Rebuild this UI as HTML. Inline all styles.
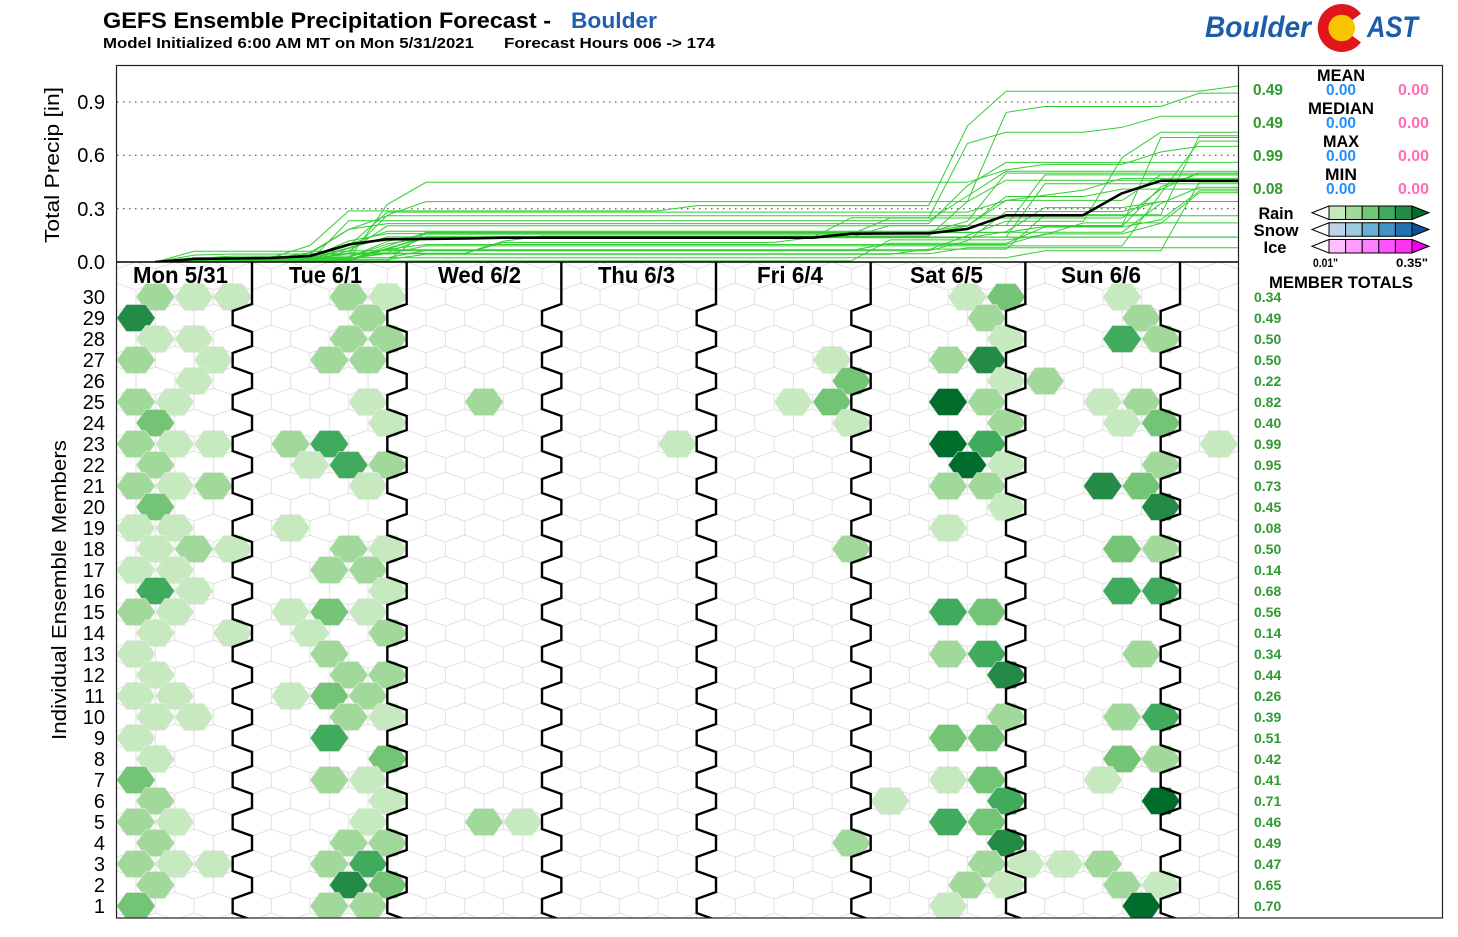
<!DOCTYPE html>
<html><head><meta charset="utf-8">
<style>
html,body{margin:0;padding:0;background:#fff;}
svg{display:block;font-family:"Liberation Sans",Arial,Helvetica,sans-serif;}
</style></head>
<body>
<svg id="s" width="1458" height="937" viewBox="0 0 1458 937" xmlns="http://www.w3.org/2000/svg">
<defs>
<clipPath id="cTop"><rect x="117" y="66" width="1121" height="196"/></clipPath>
<clipPath id="cGrid"><rect x="117" y="262" width="1121" height="656"/></clipPath>
</defs>
<rect width="1458" height="937" fill="#fff"/>

<!-- Header -->
<text x="103" y="28" font-size="22" font-weight="bold" textLength="448" lengthAdjust="spacingAndGlyphs">GEFS Ensemble Precipitation Forecast -</text>
<text x="571" y="28" font-size="22" font-weight="bold" fill="#1f5fad" textLength="86" lengthAdjust="spacingAndGlyphs">Boulder</text>
<text x="103" y="48" font-size="15" font-weight="bold" textLength="371" lengthAdjust="spacingAndGlyphs">Model Initialized 6:00 AM MT on Mon 5/31/2021</text>
<text x="504" y="48" font-size="15" font-weight="bold" textLength="211" lengthAdjust="spacingAndGlyphs">Forecast Hours 006 -&gt; 174</text>

<!-- Logo -->
<text x="1205" y="37" font-size="30" font-weight="bold" font-style="italic" fill="#1c5daa" textLength="106" lengthAdjust="spacingAndGlyphs">Boulder</text>
<circle cx="1341.7" cy="28" r="24" fill="#e0161c"/>
<polygon points="1341.7,28 1374,4 1374,52" fill="#fff"/>
<circle cx="1341.7" cy="28" r="13.3" fill="#f7c400"/>
<text x="1367" y="37" font-size="30" font-weight="bold" font-style="italic" fill="#1c5daa" textLength="51" lengthAdjust="spacingAndGlyphs">AST</text>

<!-- Top chart gridlines -->
<g stroke="#333" stroke-width="1" stroke-dasharray="1.5,4.5">
<line x1="117" y1="102" x2="1238" y2="102"/>
<line x1="117" y1="155.3" x2="1238" y2="155.3"/>
<line x1="117" y1="208.7" x2="1238" y2="208.7"/>
</g>
<g id="lines" clip-path="url(#cTop)" fill="none" stroke="#33cc33" stroke-width="1"></g>
<polyline clip-path="url(#cTop)" fill="none" stroke="#000" stroke-width="2.6" stroke-linejoin="round" points="155,262 194,259 233,258.5 271,258 310,256 349,244.5 387,239.3 426,239 465,238.5 503,237.7 542,237.7 581,237.7 620,237.7 658,237.7 697,237.7 736,237.7 774,237.7 813,237.7 851,233.7 890,233.5 929,233.3 967,229 1006,215.3 1045,215.3 1083,215.3 1122,193.3 1161,180.7 1199,180.7 1238,180.7"/>

<!-- Hex grid -->
<g id="hexes" clip-path="url(#cGrid)"></g>
<path id="seps" clip-path="url(#cGrid)" fill="none" stroke="#000" stroke-width="2.4" d=""/>

<!-- Frames -->
<line x1="117" y1="262" x2="1238" y2="262" stroke="#000" stroke-width="1.6"/>
<rect x="116.5" y="65.5" width="1326" height="852.5" fill="none" stroke="#222" stroke-width="1.2"/>
<line x1="1238.5" y1="66" x2="1238.5" y2="918" stroke="#222" stroke-width="1.2"/>

<!-- Day labels -->
<g font-size="23" font-weight="bold">
<text x="133" y="283" textLength="95" lengthAdjust="spacingAndGlyphs">Mon 5/31</text>
<text x="289" y="283" textLength="73" lengthAdjust="spacingAndGlyphs">Tue 6/1</text>
<text x="438" y="283" textLength="83" lengthAdjust="spacingAndGlyphs">Wed 6/2</text>
<text x="598" y="283" textLength="77" lengthAdjust="spacingAndGlyphs">Thu 6/3</text>
<text x="757" y="283" textLength="66" lengthAdjust="spacingAndGlyphs">Fri 6/4</text>
<text x="910" y="283" textLength="73" lengthAdjust="spacingAndGlyphs">Sat 6/5</text>
<text x="1061" y="283" textLength="80" lengthAdjust="spacingAndGlyphs">Sun 6/6</text>
</g>

<!-- Y axis labels -->
<text transform="translate(59,165) rotate(-90)" text-anchor="middle" font-size="20" textLength="156" lengthAdjust="spacingAndGlyphs">Total Precip [in]</text>
<text transform="translate(66,590) rotate(-90)" text-anchor="middle" font-size="20" textLength="300" lengthAdjust="spacingAndGlyphs">Individual Ensemble Members</text>
<g font-size="20" text-anchor="end">
<text x="105" y="109">0.9</text>
<text x="105" y="162">0.6</text>
<text x="105" y="216">0.3</text>
<text x="105" y="269">0.0</text>
</g>
<g font-size="20" text-anchor="end">
<text x="105" y="304">30</text><text x="105" y="325">29</text><text x="105" y="346">28</text><text x="105" y="367">27</text><text x="105" y="388">26</text>
<text x="105" y="409">25</text><text x="105" y="430">24</text><text x="105" y="451">23</text><text x="105" y="472">22</text><text x="105" y="493">21</text>
<text x="105" y="514">20</text><text x="105" y="535">19</text><text x="105" y="556">18</text><text x="105" y="577">17</text><text x="105" y="598">16</text>
<text x="105" y="619">15</text><text x="105" y="640">14</text><text x="105" y="661">13</text><text x="105" y="682">12</text><text x="105" y="703">11</text>
<text x="105" y="724">10</text><text x="105" y="745">9</text><text x="105" y="766">8</text><text x="105" y="787">7</text><text x="105" y="808">6</text>
<text x="105" y="829">5</text><text x="105" y="850">4</text><text x="105" y="871">3</text><text x="105" y="892">2</text><text x="105" y="913">1</text>
</g>

<!-- Right panel stats -->
<g font-weight="bold" text-anchor="middle" font-size="17">
<text x="1341" y="81" textLength="48" lengthAdjust="spacingAndGlyphs">MEAN</text>
<text x="1341" y="114" textLength="66" lengthAdjust="spacingAndGlyphs">MEDIAN</text>
<text x="1341" y="147" textLength="36" lengthAdjust="spacingAndGlyphs">MAX</text>
<text x="1341" y="180" textLength="32" lengthAdjust="spacingAndGlyphs">MIN</text>
</g>
<g font-weight="bold" font-size="16">
<g fill="#2f9a2f">
<text x="1253" y="95" textLength="30" lengthAdjust="spacingAndGlyphs">0.49</text>
<text x="1253" y="128" textLength="30" lengthAdjust="spacingAndGlyphs">0.49</text>
<text x="1253" y="161" textLength="30" lengthAdjust="spacingAndGlyphs">0.99</text>
<text x="1253" y="194" textLength="30" lengthAdjust="spacingAndGlyphs">0.08</text>
</g>
<g fill="#1e90ff">
<text x="1326" y="95" textLength="30" lengthAdjust="spacingAndGlyphs">0.00</text>
<text x="1326" y="128" textLength="30" lengthAdjust="spacingAndGlyphs">0.00</text>
<text x="1326" y="161" textLength="30" lengthAdjust="spacingAndGlyphs">0.00</text>
<text x="1326" y="194" textLength="30" lengthAdjust="spacingAndGlyphs">0.00</text>
</g>
<g fill="#ff6eb4">
<text x="1398" y="95" textLength="31" lengthAdjust="spacingAndGlyphs">0.00</text>
<text x="1398" y="128" textLength="31" lengthAdjust="spacingAndGlyphs">0.00</text>
<text x="1398" y="161" textLength="31" lengthAdjust="spacingAndGlyphs">0.00</text>
<text x="1398" y="194" textLength="31" lengthAdjust="spacingAndGlyphs">0.00</text>
</g>
</g>

<!-- Legend -->
<g font-weight="bold" font-size="17" text-anchor="middle">
<text x="1276" y="219" textLength="35" lengthAdjust="spacingAndGlyphs">Rain</text>
<text x="1276" y="236" textLength="45" lengthAdjust="spacingAndGlyphs">Snow</text>
<text x="1275" y="253" textLength="23" lengthAdjust="spacingAndGlyphs">Ice</text>
</g>
<g stroke="#000" stroke-width="1">
<polygon points="1312,212.75 1329,206 1329,219.5" fill="#fff"/>
<rect x="1329" y="206" width="16.6" height="13.5" fill="#c7e9c0"/>
<rect x="1345.6" y="206" width="16.6" height="13.5" fill="#a1d99b"/>
<rect x="1362.2" y="206" width="16.6" height="13.5" fill="#74c476"/>
<rect x="1378.8" y="206" width="16.6" height="13.5" fill="#41ab5d"/>
<rect x="1395.4" y="206" width="16.6" height="13.5" fill="#238b45"/>
<polygon points="1412,206 1429,212.75 1412,219.5" fill="#006d2c"/>

<polygon points="1312,229.5 1329,222.75 1329,236.25" fill="#fff"/>
<rect x="1329" y="222.75" width="16.6" height="13.5" fill="#bdd3e8"/>
<rect x="1345.6" y="222.75" width="16.6" height="13.5" fill="#9ecae1"/>
<rect x="1362.2" y="222.75" width="16.6" height="13.5" fill="#6baed6"/>
<rect x="1378.8" y="222.75" width="16.6" height="13.5" fill="#4292c6"/>
<rect x="1395.4" y="222.75" width="16.6" height="13.5" fill="#2171b5"/>
<polygon points="1412,222.75 1429,229.5 1412,236.25" fill="#08519c"/>

<polygon points="1312,246.25 1329,239.5 1329,253" fill="#fff"/>
<rect x="1329" y="239.5" width="16.6" height="13.5" fill="#ffbfff"/>
<rect x="1345.6" y="239.5" width="16.6" height="13.5" fill="#ff9cff"/>
<rect x="1362.2" y="239.5" width="16.6" height="13.5" fill="#ff80ff"/>
<rect x="1378.8" y="239.5" width="16.6" height="13.5" fill="#ff55ff"/>
<rect x="1395.4" y="239.5" width="16.6" height="13.5" fill="#ff33ee"/>
<polygon points="1412,239.5 1429,246.25 1412,253" fill="#ee00ee"/>
</g>
<g font-weight="bold" font-size="12">
<text x="1313" y="267" textLength="25" lengthAdjust="spacingAndGlyphs">0.01"</text>
<text x="1396" y="267" textLength="32" lengthAdjust="spacingAndGlyphs">0.35"</text>
</g>
<text x="1341" y="288" text-anchor="middle" font-weight="bold" font-size="17" textLength="144" lengthAdjust="spacingAndGlyphs">MEMBER TOTALS</text>

<!-- Member totals -->
<g font-weight="bold" font-size="14" fill="#2f9a2f">
<text x="1254" y="302">0.34</text><text x="1254" y="323">0.49</text><text x="1254" y="344">0.50</text><text x="1254" y="365">0.50</text><text x="1254" y="386">0.22</text>
<text x="1254" y="407">0.82</text><text x="1254" y="428">0.40</text><text x="1254" y="449">0.99</text><text x="1254" y="470">0.95</text><text x="1254" y="491">0.73</text>
<text x="1254" y="512">0.45</text><text x="1254" y="533">0.08</text><text x="1254" y="554">0.50</text><text x="1254" y="575">0.14</text><text x="1254" y="596">0.68</text>
<text x="1254" y="617">0.56</text><text x="1254" y="638">0.14</text><text x="1254" y="659">0.34</text><text x="1254" y="680">0.44</text><text x="1254" y="701">0.26</text>
<text x="1254" y="722">0.39</text><text x="1254" y="743">0.51</text><text x="1254" y="764">0.42</text><text x="1254" y="785">0.41</text><text x="1254" y="806">0.71</text>
<text x="1254" y="827">0.46</text><text x="1254" y="848">0.49</text><text x="1254" y="869">0.47</text><text x="1254" y="890">0.65</text><text x="1254" y="911">0.70</text>
</g>
</svg>

<script>
(function(){
var NS='http://www.w3.org/2000/svg';
var W=38.67, HW=19.335, TW=9.67, HH=13.5;
function rowY(r){return 297+(30-r)*21;}
function hexPath(cx,cy){
  return 'M'+(cx-HW).toFixed(2)+','+cy+'L'+(cx-TW).toFixed(2)+','+(cy-HH)+'L'+(cx+TW).toFixed(2)+','+(cy-HH)+'L'+(cx+HW).toFixed(2)+','+cy+'L'+(cx+TW).toFixed(2)+','+(cy+HH)+'L'+(cx-TW).toFixed(2)+','+(cy+HH)+'Z';
}
function gridPath(cx,cy){
  return 'M'+cx.toFixed(2)+','+(cy-14)+'L'+(cx+HW).toFixed(2)+','+(cy-7)+'L'+(cx+HW).toFixed(2)+','+(cy+7)+'L'+cx.toFixed(2)+','+(cy+14)+'L'+(cx-HW).toFixed(2)+','+(cy+7)+'L'+(cx-HW).toFixed(2)+','+(cy-7)+'Z';
}
var COL={L:'#c7e9c0',M:'#a1d99b',G:'#74c476',D:'#41ab5d',E:'#238b45',F:'#006d2c'};
var H={
30:[[155,'M'],[194,'L'],[233,'L'],[349,'M'],[388,'L'],[967,'L'],[1006,'G'],[1122,'L']],
29:[[136,'E'],[368,'M'],[987,'M'],[1141,'M']],
28:[[155,'L'],[194,'L'],[349,'M'],[388,'M'],[1006,'L'],[1122,'D'],[1161,'M']],
27:[[136,'M'],[213,'L'],[329,'M'],[368,'M'],[832,'L'],[948,'M'],[987,'E']],
26:[[194,'L'],[853,'G'],[1006,'L'],[1045,'M']],
25:[[136,'M'],[175,'L'],[368,'L'],[484,'M'],[794,'L'],[833,'G'],[948,'F'],[987,'M'],[1103,'L'],[1141,'M']],
24:[[155,'G'],[388,'L'],[853,'L'],[1006,'M'],[1122,'L'],[1161,'G']],
23:[[136,'M'],[175,'L'],[213,'L'],[291,'M'],[329,'D'],[677,'L'],[948,'F'],[987,'D'],[1219,'L']],
22:[[155,'M'],[310,'L'],[349,'D'],[388,'M'],[967,'F'],[1006,'L'],[1161,'M']],
21:[[136,'M'],[175,'L'],[213,'M'],[368,'L'],[948,'M'],[987,'M'],[1103,'E'],[1141,'G']],
20:[[155,'G'],[1006,'L'],[1161,'E']],
19:[[136,'L'],[175,'L'],[291,'L'],[948,'L']],
18:[[155,'L'],[194,'M'],[233,'L'],[349,'M'],[388,'L'],[853,'M'],[1122,'G'],[1161,'M']],
17:[[136,'L'],[175,'L'],[329,'M'],[368,'M']],
16:[[155,'D'],[194,'L'],[388,'L'],[1122,'D'],[1161,'D']],
15:[[136,'M'],[175,'L'],[291,'L'],[329,'G'],[368,'L'],[948,'D'],[987,'G']],
14:[[155,'L'],[233,'L'],[310,'L'],[388,'M']],
13:[[136,'L'],[329,'M'],[948,'M'],[987,'D'],[1141,'M']],
12:[[155,'L'],[349,'M'],[388,'M'],[1006,'E']],
11:[[136,'L'],[175,'L'],[291,'L'],[329,'G'],[368,'M']],
10:[[155,'L'],[194,'L'],[349,'M'],[388,'L'],[1006,'M'],[1122,'M'],[1161,'D']],
9:[[136,'L'],[329,'D'],[948,'G'],[987,'G']],
8:[[155,'L'],[388,'G'],[1122,'G'],[1161,'M']],
7:[[136,'G'],[329,'M'],[368,'L'],[948,'L'],[987,'G'],[1103,'L']],
6:[[155,'M'],[388,'L'],[891,'L'],[1006,'D'],[1161,'F']],
5:[[136,'M'],[175,'L'],[368,'L'],[484,'M'],[523,'L'],[948,'D'],[987,'G']],
4:[[155,'M'],[349,'M'],[388,'M'],[853,'M'],[1006,'E']],
3:[[136,'M'],[175,'L'],[213,'L'],[329,'M'],[368,'D'],[987,'M'],[1025,'L'],[1064,'L'],[1103,'M']],
2:[[155,'M'],[349,'E'],[388,'G'],[967,'M'],[1006,'L'],[1122,'M'],[1161,'L']],
1:[[136,'G'],[329,'M'],[368,'M'],[948,'L'],[1141,'F']]
};
var TOT={30:.34,29:.49,28:.50,27:.50,26:.22,25:.82,24:.40,23:.99,22:.95,21:.73,20:.45,19:.08,18:.50,17:.14,16:.68,15:.56,14:.14,13:.34,12:.44,11:.26,10:.39,9:.51,8:.42,7:.41,6:.71,5:.46,4:.49,3:.47,2:.65,1:.70};
var AMT={L:0.02,M:0.045,G:0.08,D:0.13,E:0.2,F:0.3};

// white honeycomb (exact tessellation)
var g=document.getElementById('hexes');
var d='';
for(var r=31;r>=0;r--){
  var y=rowY(r), base=(r%2===0)?116.67:136;
  for(var k=-1;k<=30;k++){var cx=base+k*W; if(cx>1262)break; d+=gridPath(cx,y);}
}
var p=document.createElementNS(NS,'path');
p.setAttribute('d',d);p.setAttribute('fill','#fff');p.setAttribute('stroke','#e2e2e2');p.setAttribute('stroke-width','1');
g.appendChild(p);

// colored hexes + lines
var lg=document.getElementById('lines');
function T(k){return 116.67+38.67*k;}
for(var r=30;r>=1;r--){
  var y=rowY(r), base=(r%2===0)?116.67:136, hs=H[r];
  var inc=[]; for(var i=0;i<31;i++)inc.push(0);
  var mon=0,rest=0,items=[];
  for(var j=0;j<hs.length;j++){
    var x=hs[j][0], c=hs[j][1];
    var k0=Math.round((x-base)/W), cx=base+k0*W;
    var hp=document.createElementNS(NS,'path');
    hp.setAttribute('d',hexPath(cx,y));hp.setAttribute('fill',COL[c]);
    hp.setAttribute('stroke','rgba(235,235,235,0.7)');hp.setAttribute('stroke-width','0.8');
    g.appendChild(hp);
    var k=Math.floor((cx-116.67+1)/W); if(k<1)k=1; if(k>28)k=28;
    var isMon=cx<252, a=AMT[c]*(isMon?0.3:1);
    items.push([k,a,isMon]); if(isMon)mon+=a; else rest+=a;
  }
  var sc=rest>0?Math.max(0,(TOT[r]-mon)/rest):1;
  for(var j=0;j<items.length;j++){inc[items[j][0]]+=items[j][2]?items[j][1]:items[j][1]*sc;}
  var v=0, pts=[];
  for(var k=1;k<=29;k++){pts.push(T(k).toFixed(1)+','+(262-v*177.8).toFixed(1)); v+=inc[k];}
  var pl=document.createElementNS(NS,'polyline');
  pl.setAttribute('points',pts.join(' '));
  lg.appendChild(pl);
}

// separators
var sd='';
for(var s=0;s<7;s++){
  var xe=252+154.67*s, xo=xe-19.33;
  sd+='M'+xe.toFixed(2)+',262';
  for(var r=30;r>=-1;r--){
    var yy=rowY(r), xx=(Math.abs(r)%2===0)?xe:xo;
    if(r===30){sd+='L'+xe.toFixed(2)+','+(yy+7);}
    else{sd+='L'+xx.toFixed(2)+','+(yy-7)+'L'+xx.toFixed(2)+','+(yy+7);}
  }
}
document.getElementById('seps').setAttribute('d',sd);
})();
</script>
</body></html>
